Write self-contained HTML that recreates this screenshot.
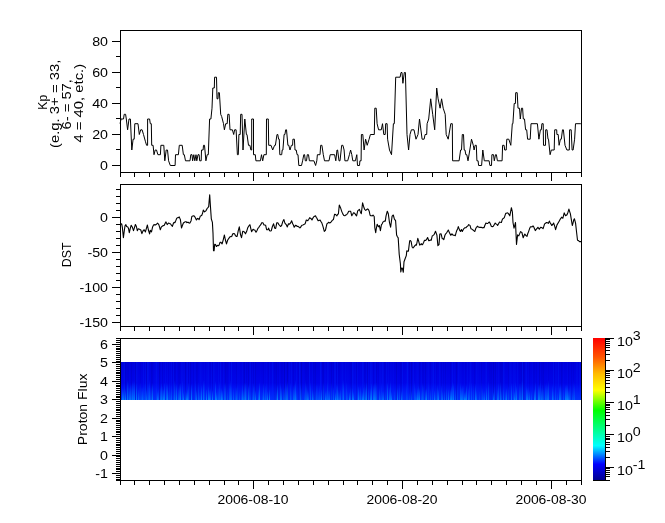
<!DOCTYPE html><html><head><meta charset="utf-8"><style>html,body{margin:0;padding:0;background:#fff;overflow:hidden}svg{display:block}text{font-family:"Liberation Sans", sans-serif;fill:#000} svg{will-change:transform}</style></head><body>
<svg width="665" height="523" viewBox="0 0 665 523">
<rect x="0" y="0" width="665" height="523" fill="#fff"/>
<defs><linearGradient id="cw" x1="0" y1="1" x2="0" y2="0"><stop offset="0.0000" stop-color="rgb(0,0,137)"/><stop offset="0.1176" stop-color="rgb(0,0,255)"/><stop offset="0.2471" stop-color="rgb(0,255,255)"/><stop offset="0.4941" stop-color="rgb(0,255,0)"/><stop offset="0.6353" stop-color="rgb(255,255,0)"/><stop offset="0.7529" stop-color="rgb(255,185,0)"/><stop offset="0.8667" stop-color="rgb(255,84,0)"/><stop offset="1.0000" stop-color="rgb(255,0,0)"/></linearGradient><linearGradient id="sb" x1="0" y1="0" x2="0" y2="1"><stop offset="0" stop-color="#0000dc"/><stop offset="0.55" stop-color="#0004e8"/><stop offset="0.66" stop-color="#000ef2"/><stop offset="1" stop-color="#0034fc"/></linearGradient><linearGradient id="sl" x1="0" y1="0" x2="0" y2="1"><stop offset="0" stop-color="#0050ff" stop-opacity="0"/><stop offset="0.5" stop-color="#0060ff" stop-opacity="0.7"/><stop offset="1" stop-color="#0090ff" stop-opacity="1"/></linearGradient></defs><rect x="120" y="362" width="461" height="38" fill="url(#sb)"/><rect x="121" y="362" width="1" height="38" fill="#000090" fill-opacity="0.12"/><rect x="122" y="362" width="1" height="38" fill="#0030ff" fill-opacity="0.05"/><rect x="122" y="388" width="1" height="12" fill="url(#sl)" fill-opacity="0.80"/><rect x="123" y="362" width="1" height="38" fill="#0030ff" fill-opacity="0.08"/><rect x="123" y="389" width="1" height="11" fill="url(#sl)" fill-opacity="0.76"/><rect x="124" y="362" width="1" height="38" fill="#0030ff" fill-opacity="0.20"/><rect x="124" y="384" width="1" height="16" fill="url(#sl)" fill-opacity="0.30"/><rect x="125" y="362" width="1" height="38" fill="#000090" fill-opacity="0.20"/><rect x="125" y="389" width="1" height="11" fill="url(#sl)" fill-opacity="0.89"/><rect x="126" y="362" width="1" height="38" fill="#000090" fill-opacity="0.05"/><rect x="127" y="362" width="1" height="38" fill="#000090" fill-opacity="0.08"/><rect x="127" y="380" width="1" height="20" fill="url(#sl)" fill-opacity="0.78"/><rect x="128" y="362" width="1" height="38" fill="#000090" fill-opacity="0.11"/><rect x="128" y="380" width="1" height="20" fill="url(#sl)" fill-opacity="0.33"/><rect x="129" y="387" width="1" height="13" fill="url(#sl)" fill-opacity="0.61"/><rect x="130" y="383" width="1" height="17" fill="url(#sl)" fill-opacity="0.65"/><rect x="131" y="362" width="1" height="38" fill="#000090" fill-opacity="0.15"/><rect x="131" y="384" width="1" height="16" fill="url(#sl)" fill-opacity="0.48"/><rect x="132" y="381" width="1" height="19" fill="url(#sl)" fill-opacity="0.70"/><rect x="133" y="381" width="1" height="19" fill="url(#sl)" fill-opacity="0.59"/><rect x="134" y="362" width="1" height="38" fill="#0030ff" fill-opacity="0.08"/><rect x="134" y="381" width="1" height="19" fill="url(#sl)" fill-opacity="0.79"/><rect x="135" y="362" width="1" height="38" fill="#000090" fill-opacity="0.19"/><rect x="136" y="362" width="1" height="38" fill="#0030ff" fill-opacity="0.20"/><rect x="136" y="383" width="1" height="17" fill="url(#sl)" fill-opacity="0.85"/><rect x="137" y="362" width="1" height="38" fill="#0030ff" fill-opacity="0.11"/><rect x="138" y="362" width="1" height="38" fill="#0030ff" fill-opacity="0.04"/><rect x="138" y="389" width="1" height="11" fill="url(#sl)" fill-opacity="0.64"/><rect x="139" y="385" width="1" height="15" fill="url(#sl)" fill-opacity="0.21"/><rect x="140" y="362" width="1" height="38" fill="#000090" fill-opacity="0.08"/><rect x="140" y="381" width="1" height="19" fill="url(#sl)" fill-opacity="0.29"/><rect x="141" y="387" width="1" height="13" fill="url(#sl)" fill-opacity="0.32"/><rect x="142" y="387" width="1" height="13" fill="url(#sl)" fill-opacity="0.56"/><rect x="143" y="362" width="1" height="38" fill="#0030ff" fill-opacity="0.20"/><rect x="143" y="386" width="1" height="14" fill="url(#sl)" fill-opacity="0.28"/><rect x="144" y="383" width="1" height="17" fill="url(#sl)" fill-opacity="0.20"/><rect x="145" y="362" width="1" height="38" fill="#0030ff" fill-opacity="0.21"/><rect x="145" y="380" width="1" height="20" fill="url(#sl)" fill-opacity="0.35"/><rect x="146" y="362" width="1" height="38" fill="#000090" fill-opacity="0.20"/><rect x="146" y="389" width="1" height="11" fill="url(#sl)" fill-opacity="0.65"/><rect x="147" y="362" width="1" height="38" fill="#0030ff" fill-opacity="0.29"/><rect x="147" y="384" width="1" height="16" fill="url(#sl)" fill-opacity="0.21"/><rect x="148" y="362" width="1" height="38" fill="#0030ff" fill-opacity="0.21"/><rect x="148" y="384" width="1" height="16" fill="url(#sl)" fill-opacity="0.47"/><rect x="149" y="362" width="1" height="38" fill="#0030ff" fill-opacity="0.07"/><rect x="149" y="380" width="1" height="20" fill="url(#sl)" fill-opacity="0.62"/><rect x="150" y="362" width="1" height="38" fill="#0030ff" fill-opacity="0.04"/><rect x="150" y="387" width="1" height="13" fill="url(#sl)" fill-opacity="0.29"/><rect x="151" y="362" width="1" height="38" fill="#000090" fill-opacity="0.16"/><rect x="151" y="386" width="1" height="14" fill="url(#sl)" fill-opacity="0.33"/><rect x="152" y="362" width="1" height="38" fill="#000090" fill-opacity="0.10"/><rect x="152" y="383" width="1" height="17" fill="url(#sl)" fill-opacity="0.77"/><rect x="154" y="362" width="1" height="38" fill="#0030ff" fill-opacity="0.08"/><rect x="155" y="362" width="1" height="38" fill="#0030ff" fill-opacity="0.10"/><rect x="156" y="362" width="1" height="38" fill="#0030ff" fill-opacity="0.28"/><rect x="156" y="386" width="1" height="14" fill="url(#sl)" fill-opacity="0.23"/><rect x="157" y="362" width="1" height="38" fill="#0030ff" fill-opacity="0.11"/><rect x="157" y="391" width="1" height="9" fill="url(#sl)" fill-opacity="0.69"/><rect x="158" y="362" width="1" height="38" fill="#0030ff" fill-opacity="0.09"/><rect x="158" y="389" width="1" height="11" fill="url(#sl)" fill-opacity="0.54"/><rect x="159" y="362" width="1" height="38" fill="#000090" fill-opacity="0.23"/><rect x="160" y="387" width="1" height="13" fill="url(#sl)" fill-opacity="0.59"/><rect x="161" y="362" width="1" height="38" fill="#0030ff" fill-opacity="0.10"/><rect x="161" y="383" width="1" height="17" fill="url(#sl)" fill-opacity="0.72"/><rect x="162" y="362" width="1" height="38" fill="#000090" fill-opacity="0.11"/><rect x="162" y="386" width="1" height="14" fill="url(#sl)" fill-opacity="0.51"/><rect x="163" y="362" width="1" height="38" fill="#0030ff" fill-opacity="0.07"/><rect x="163" y="389" width="1" height="11" fill="url(#sl)" fill-opacity="0.88"/><rect x="164" y="382" width="1" height="18" fill="url(#sl)" fill-opacity="0.82"/><rect x="165" y="362" width="1" height="38" fill="#0030ff" fill-opacity="0.17"/><rect x="166" y="382" width="1" height="18" fill="url(#sl)" fill-opacity="0.61"/><rect x="167" y="362" width="1" height="38" fill="#0030ff" fill-opacity="0.12"/><rect x="167" y="384" width="1" height="16" fill="url(#sl)" fill-opacity="0.87"/><rect x="168" y="362" width="1" height="38" fill="#000090" fill-opacity="0.05"/><rect x="168" y="390" width="1" height="10" fill="url(#sl)" fill-opacity="0.25"/><rect x="169" y="362" width="1" height="38" fill="#0030ff" fill-opacity="0.09"/><rect x="169" y="381" width="1" height="19" fill="url(#sl)" fill-opacity="0.25"/><rect x="170" y="362" width="1" height="38" fill="#0030ff" fill-opacity="0.04"/><rect x="170" y="391" width="1" height="9" fill="url(#sl)" fill-opacity="0.23"/><rect x="171" y="362" width="1" height="38" fill="#0030ff" fill-opacity="0.18"/><rect x="171" y="385" width="1" height="15" fill="url(#sl)" fill-opacity="0.45"/><rect x="172" y="362" width="1" height="38" fill="#000090" fill-opacity="0.06"/><rect x="173" y="362" width="1" height="38" fill="#0030ff" fill-opacity="0.20"/><rect x="173" y="392" width="1" height="8" fill="url(#sl)" fill-opacity="0.22"/><rect x="174" y="362" width="1" height="38" fill="#000090" fill-opacity="0.12"/><rect x="174" y="380" width="1" height="20" fill="url(#sl)" fill-opacity="0.64"/><rect x="175" y="362" width="1" height="38" fill="#000090" fill-opacity="0.10"/><rect x="175" y="381" width="1" height="19" fill="url(#sl)" fill-opacity="0.26"/><rect x="176" y="362" width="1" height="38" fill="#0030ff" fill-opacity="0.11"/><rect x="176" y="384" width="1" height="16" fill="url(#sl)" fill-opacity="0.82"/><rect x="178" y="362" width="1" height="38" fill="#000090" fill-opacity="0.10"/><rect x="178" y="387" width="1" height="13" fill="url(#sl)" fill-opacity="0.52"/><rect x="179" y="362" width="1" height="38" fill="#000090" fill-opacity="0.12"/><rect x="179" y="384" width="1" height="16" fill="url(#sl)" fill-opacity="0.62"/><rect x="180" y="383" width="1" height="17" fill="url(#sl)" fill-opacity="0.87"/><rect x="181" y="362" width="1" height="38" fill="#0030ff" fill-opacity="0.16"/><rect x="182" y="362" width="1" height="38" fill="#0030ff" fill-opacity="0.14"/><rect x="182" y="380" width="1" height="20" fill="url(#sl)" fill-opacity="0.46"/><rect x="183" y="362" width="1" height="38" fill="#0030ff" fill-opacity="0.10"/><rect x="183" y="392" width="1" height="8" fill="url(#sl)" fill-opacity="0.83"/><rect x="184" y="362" width="1" height="38" fill="#0030ff" fill-opacity="0.13"/><rect x="185" y="362" width="1" height="38" fill="#000090" fill-opacity="0.20"/><rect x="185" y="390" width="1" height="10" fill="url(#sl)" fill-opacity="0.38"/><rect x="186" y="362" width="1" height="38" fill="#0030ff" fill-opacity="0.09"/><rect x="186" y="392" width="1" height="8" fill="url(#sl)" fill-opacity="0.76"/><rect x="187" y="362" width="1" height="38" fill="#0030ff" fill-opacity="0.21"/><rect x="187" y="389" width="1" height="11" fill="url(#sl)" fill-opacity="0.84"/><rect x="188" y="362" width="1" height="38" fill="#000090" fill-opacity="0.11"/><rect x="188" y="382" width="1" height="18" fill="url(#sl)" fill-opacity="0.55"/><rect x="189" y="362" width="1" height="38" fill="#0030ff" fill-opacity="0.12"/><rect x="190" y="362" width="1" height="38" fill="#000090" fill-opacity="0.17"/><rect x="191" y="384" width="1" height="16" fill="url(#sl)" fill-opacity="0.85"/><rect x="192" y="362" width="1" height="38" fill="#0030ff" fill-opacity="0.07"/><rect x="193" y="362" width="1" height="38" fill="#000090" fill-opacity="0.09"/><rect x="194" y="362" width="1" height="38" fill="#0030ff" fill-opacity="0.10"/><rect x="195" y="362" width="1" height="38" fill="#0030ff" fill-opacity="0.09"/><rect x="195" y="380" width="1" height="20" fill="url(#sl)" fill-opacity="0.39"/><rect x="196" y="362" width="1" height="38" fill="#000090" fill-opacity="0.12"/><rect x="196" y="390" width="1" height="10" fill="url(#sl)" fill-opacity="0.70"/><rect x="197" y="362" width="1" height="38" fill="#000090" fill-opacity="0.08"/><rect x="198" y="382" width="1" height="18" fill="url(#sl)" fill-opacity="0.48"/><rect x="199" y="362" width="1" height="38" fill="#0030ff" fill-opacity="0.08"/><rect x="199" y="392" width="1" height="8" fill="url(#sl)" fill-opacity="0.30"/><rect x="200" y="362" width="1" height="38" fill="#0030ff" fill-opacity="0.19"/><rect x="200" y="390" width="1" height="10" fill="url(#sl)" fill-opacity="0.28"/><rect x="201" y="362" width="1" height="38" fill="#0030ff" fill-opacity="0.12"/><rect x="201" y="385" width="1" height="15" fill="url(#sl)" fill-opacity="0.87"/><rect x="202" y="362" width="1" height="38" fill="#0030ff" fill-opacity="0.09"/><rect x="203" y="362" width="1" height="38" fill="#0030ff" fill-opacity="0.04"/><rect x="203" y="380" width="1" height="20" fill="url(#sl)" fill-opacity="0.73"/><rect x="204" y="362" width="1" height="38" fill="#0030ff" fill-opacity="0.13"/><rect x="204" y="380" width="1" height="20" fill="url(#sl)" fill-opacity="0.33"/><rect x="206" y="362" width="1" height="38" fill="#0030ff" fill-opacity="0.11"/><rect x="206" y="389" width="1" height="11" fill="url(#sl)" fill-opacity="0.90"/><rect x="207" y="362" width="1" height="38" fill="#0030ff" fill-opacity="0.13"/><rect x="208" y="362" width="1" height="38" fill="#0030ff" fill-opacity="0.20"/><rect x="208" y="386" width="1" height="14" fill="url(#sl)" fill-opacity="0.85"/><rect x="209" y="390" width="1" height="10" fill="url(#sl)" fill-opacity="0.82"/><rect x="210" y="362" width="1" height="38" fill="#000090" fill-opacity="0.05"/><rect x="210" y="388" width="1" height="12" fill="url(#sl)" fill-opacity="0.60"/><rect x="211" y="362" width="1" height="38" fill="#0030ff" fill-opacity="0.16"/><rect x="212" y="362" width="1" height="38" fill="#000090" fill-opacity="0.12"/><rect x="212" y="390" width="1" height="10" fill="url(#sl)" fill-opacity="0.89"/><rect x="213" y="362" width="1" height="38" fill="#0030ff" fill-opacity="0.20"/><rect x="214" y="362" width="1" height="38" fill="#0030ff" fill-opacity="0.14"/><rect x="215" y="362" width="1" height="38" fill="#0030ff" fill-opacity="0.06"/><rect x="215" y="381" width="1" height="19" fill="url(#sl)" fill-opacity="0.88"/><rect x="216" y="362" width="1" height="38" fill="#0030ff" fill-opacity="0.06"/><rect x="216" y="392" width="1" height="8" fill="url(#sl)" fill-opacity="0.85"/><rect x="217" y="388" width="1" height="12" fill="url(#sl)" fill-opacity="0.26"/><rect x="218" y="362" width="1" height="38" fill="#0030ff" fill-opacity="0.19"/><rect x="218" y="388" width="1" height="12" fill="url(#sl)" fill-opacity="0.49"/><rect x="219" y="381" width="1" height="19" fill="url(#sl)" fill-opacity="0.50"/><rect x="220" y="362" width="1" height="38" fill="#0030ff" fill-opacity="0.27"/><rect x="220" y="388" width="1" height="12" fill="url(#sl)" fill-opacity="0.43"/><rect x="221" y="388" width="1" height="12" fill="url(#sl)" fill-opacity="0.83"/><rect x="222" y="362" width="1" height="38" fill="#000090" fill-opacity="0.05"/><rect x="222" y="390" width="1" height="10" fill="url(#sl)" fill-opacity="0.68"/><rect x="223" y="362" width="1" height="38" fill="#0030ff" fill-opacity="0.13"/><rect x="224" y="383" width="1" height="17" fill="url(#sl)" fill-opacity="0.51"/><rect x="225" y="362" width="1" height="38" fill="#000090" fill-opacity="0.18"/><rect x="225" y="382" width="1" height="18" fill="url(#sl)" fill-opacity="0.57"/><rect x="226" y="362" width="1" height="38" fill="#000090" fill-opacity="0.07"/><rect x="227" y="362" width="1" height="38" fill="#000090" fill-opacity="0.08"/><rect x="227" y="389" width="1" height="11" fill="url(#sl)" fill-opacity="0.35"/><rect x="229" y="362" width="1" height="38" fill="#0030ff" fill-opacity="0.14"/><rect x="229" y="383" width="1" height="17" fill="url(#sl)" fill-opacity="0.49"/><rect x="230" y="380" width="1" height="20" fill="url(#sl)" fill-opacity="0.62"/><rect x="231" y="362" width="1" height="38" fill="#0030ff" fill-opacity="0.31"/><rect x="231" y="386" width="1" height="14" fill="url(#sl)" fill-opacity="0.58"/><rect x="232" y="362" width="1" height="38" fill="#0030ff" fill-opacity="0.05"/><rect x="233" y="362" width="1" height="38" fill="#0030ff" fill-opacity="0.04"/><rect x="233" y="388" width="1" height="12" fill="url(#sl)" fill-opacity="0.52"/><rect x="234" y="362" width="1" height="38" fill="#0030ff" fill-opacity="0.04"/><rect x="235" y="362" width="1" height="38" fill="#0030ff" fill-opacity="0.04"/><rect x="235" y="387" width="1" height="13" fill="url(#sl)" fill-opacity="0.29"/><rect x="236" y="362" width="1" height="38" fill="#000090" fill-opacity="0.10"/><rect x="236" y="387" width="1" height="13" fill="url(#sl)" fill-opacity="0.57"/><rect x="237" y="362" width="1" height="38" fill="#0030ff" fill-opacity="0.10"/><rect x="237" y="384" width="1" height="16" fill="url(#sl)" fill-opacity="0.29"/><rect x="238" y="362" width="1" height="38" fill="#0030ff" fill-opacity="0.08"/><rect x="239" y="362" width="1" height="38" fill="#0030ff" fill-opacity="0.08"/><rect x="239" y="390" width="1" height="10" fill="url(#sl)" fill-opacity="0.40"/><rect x="241" y="389" width="1" height="11" fill="url(#sl)" fill-opacity="0.29"/><rect x="242" y="362" width="1" height="38" fill="#0030ff" fill-opacity="0.14"/><rect x="242" y="384" width="1" height="16" fill="url(#sl)" fill-opacity="0.70"/><rect x="243" y="362" width="1" height="38" fill="#000090" fill-opacity="0.06"/><rect x="243" y="390" width="1" height="10" fill="url(#sl)" fill-opacity="0.49"/><rect x="244" y="362" width="1" height="38" fill="#000090" fill-opacity="0.20"/><rect x="244" y="382" width="1" height="18" fill="url(#sl)" fill-opacity="0.58"/><rect x="245" y="362" width="1" height="38" fill="#0030ff" fill-opacity="0.10"/><rect x="245" y="383" width="1" height="17" fill="url(#sl)" fill-opacity="0.80"/><rect x="246" y="362" width="1" height="38" fill="#000090" fill-opacity="0.09"/><rect x="246" y="382" width="1" height="18" fill="url(#sl)" fill-opacity="0.36"/><rect x="248" y="362" width="1" height="38" fill="#000090" fill-opacity="0.18"/><rect x="248" y="385" width="1" height="15" fill="url(#sl)" fill-opacity="0.82"/><rect x="249" y="362" width="1" height="38" fill="#0030ff" fill-opacity="0.07"/><rect x="249" y="381" width="1" height="19" fill="url(#sl)" fill-opacity="0.29"/><rect x="250" y="362" width="1" height="38" fill="#0030ff" fill-opacity="0.20"/><rect x="250" y="391" width="1" height="9" fill="url(#sl)" fill-opacity="0.26"/><rect x="251" y="362" width="1" height="38" fill="#000090" fill-opacity="0.08"/><rect x="252" y="362" width="1" height="38" fill="#0030ff" fill-opacity="0.08"/><rect x="252" y="391" width="1" height="9" fill="url(#sl)" fill-opacity="0.29"/><rect x="253" y="362" width="1" height="38" fill="#000090" fill-opacity="0.12"/><rect x="253" y="383" width="1" height="17" fill="url(#sl)" fill-opacity="0.60"/><rect x="254" y="362" width="1" height="38" fill="#0030ff" fill-opacity="0.10"/><rect x="254" y="385" width="1" height="15" fill="url(#sl)" fill-opacity="0.28"/><rect x="255" y="362" width="1" height="38" fill="#000090" fill-opacity="0.17"/><rect x="255" y="390" width="1" height="10" fill="url(#sl)" fill-opacity="0.78"/><rect x="258" y="389" width="1" height="11" fill="url(#sl)" fill-opacity="0.54"/><rect x="259" y="382" width="1" height="18" fill="url(#sl)" fill-opacity="0.89"/><rect x="260" y="362" width="1" height="38" fill="#0030ff" fill-opacity="0.06"/><rect x="262" y="392" width="1" height="8" fill="url(#sl)" fill-opacity="0.27"/><rect x="263" y="362" width="1" height="38" fill="#000090" fill-opacity="0.08"/><rect x="263" y="383" width="1" height="17" fill="url(#sl)" fill-opacity="0.62"/><rect x="264" y="362" width="1" height="38" fill="#0030ff" fill-opacity="0.08"/><rect x="264" y="391" width="1" height="9" fill="url(#sl)" fill-opacity="0.23"/><rect x="265" y="362" width="1" height="38" fill="#0030ff" fill-opacity="0.04"/><rect x="265" y="385" width="1" height="15" fill="url(#sl)" fill-opacity="0.48"/><rect x="266" y="362" width="1" height="38" fill="#0030ff" fill-opacity="0.12"/><rect x="266" y="382" width="1" height="18" fill="url(#sl)" fill-opacity="0.27"/><rect x="267" y="391" width="1" height="9" fill="url(#sl)" fill-opacity="0.81"/><rect x="268" y="362" width="1" height="38" fill="#000090" fill-opacity="0.09"/><rect x="269" y="362" width="1" height="38" fill="#0030ff" fill-opacity="0.14"/><rect x="269" y="389" width="1" height="11" fill="url(#sl)" fill-opacity="0.89"/><rect x="272" y="362" width="1" height="38" fill="#0030ff" fill-opacity="0.26"/><rect x="273" y="362" width="1" height="38" fill="#0030ff" fill-opacity="0.05"/><rect x="274" y="362" width="1" height="38" fill="#000090" fill-opacity="0.09"/><rect x="275" y="362" width="1" height="38" fill="#000090" fill-opacity="0.06"/><rect x="276" y="362" width="1" height="38" fill="#000090" fill-opacity="0.16"/><rect x="276" y="391" width="1" height="9" fill="url(#sl)" fill-opacity="0.33"/><rect x="277" y="385" width="1" height="15" fill="url(#sl)" fill-opacity="0.89"/><rect x="278" y="362" width="1" height="38" fill="#000090" fill-opacity="0.08"/><rect x="279" y="362" width="1" height="38" fill="#0030ff" fill-opacity="0.09"/><rect x="280" y="383" width="1" height="17" fill="url(#sl)" fill-opacity="0.66"/><rect x="281" y="362" width="1" height="38" fill="#000090" fill-opacity="0.11"/><rect x="281" y="387" width="1" height="13" fill="url(#sl)" fill-opacity="0.65"/><rect x="282" y="362" width="1" height="38" fill="#000090" fill-opacity="0.05"/><rect x="283" y="389" width="1" height="11" fill="url(#sl)" fill-opacity="0.28"/><rect x="284" y="362" width="1" height="38" fill="#000090" fill-opacity="0.28"/><rect x="284" y="387" width="1" height="13" fill="url(#sl)" fill-opacity="0.48"/><rect x="285" y="362" width="1" height="38" fill="#0030ff" fill-opacity="0.08"/><rect x="285" y="381" width="1" height="19" fill="url(#sl)" fill-opacity="0.38"/><rect x="286" y="385" width="1" height="15" fill="url(#sl)" fill-opacity="0.59"/><rect x="287" y="362" width="1" height="38" fill="#000090" fill-opacity="0.26"/><rect x="287" y="381" width="1" height="19" fill="url(#sl)" fill-opacity="0.65"/><rect x="289" y="362" width="1" height="38" fill="#0030ff" fill-opacity="0.14"/><rect x="290" y="362" width="1" height="38" fill="#0030ff" fill-opacity="0.07"/><rect x="290" y="382" width="1" height="18" fill="url(#sl)" fill-opacity="0.47"/><rect x="291" y="362" width="1" height="38" fill="#0030ff" fill-opacity="0.23"/><rect x="291" y="389" width="1" height="11" fill="url(#sl)" fill-opacity="0.24"/><rect x="293" y="362" width="1" height="38" fill="#000090" fill-opacity="0.11"/><rect x="293" y="385" width="1" height="15" fill="url(#sl)" fill-opacity="0.57"/><rect x="294" y="362" width="1" height="38" fill="#0030ff" fill-opacity="0.07"/><rect x="294" y="384" width="1" height="16" fill="url(#sl)" fill-opacity="0.59"/><rect x="295" y="380" width="1" height="20" fill="url(#sl)" fill-opacity="0.74"/><rect x="296" y="362" width="1" height="38" fill="#0030ff" fill-opacity="0.19"/><rect x="296" y="390" width="1" height="10" fill="url(#sl)" fill-opacity="0.31"/><rect x="298" y="362" width="1" height="38" fill="#000090" fill-opacity="0.10"/><rect x="299" y="362" width="1" height="38" fill="#0030ff" fill-opacity="0.34"/><rect x="300" y="362" width="1" height="38" fill="#0030ff" fill-opacity="0.11"/><rect x="300" y="383" width="1" height="17" fill="url(#sl)" fill-opacity="0.50"/><rect x="301" y="362" width="1" height="38" fill="#000090" fill-opacity="0.27"/><rect x="301" y="388" width="1" height="12" fill="url(#sl)" fill-opacity="0.27"/><rect x="302" y="362" width="1" height="38" fill="#0030ff" fill-opacity="0.05"/><rect x="303" y="362" width="1" height="38" fill="#0030ff" fill-opacity="0.06"/><rect x="304" y="391" width="1" height="9" fill="url(#sl)" fill-opacity="0.28"/><rect x="305" y="362" width="1" height="38" fill="#000090" fill-opacity="0.08"/><rect x="305" y="380" width="1" height="20" fill="url(#sl)" fill-opacity="0.45"/><rect x="306" y="362" width="1" height="38" fill="#000090" fill-opacity="0.08"/><rect x="306" y="385" width="1" height="15" fill="url(#sl)" fill-opacity="0.51"/><rect x="307" y="362" width="1" height="38" fill="#000090" fill-opacity="0.05"/><rect x="307" y="389" width="1" height="11" fill="url(#sl)" fill-opacity="0.68"/><rect x="308" y="362" width="1" height="38" fill="#000090" fill-opacity="0.10"/><rect x="308" y="391" width="1" height="9" fill="url(#sl)" fill-opacity="0.57"/><rect x="309" y="362" width="1" height="38" fill="#0030ff" fill-opacity="0.30"/><rect x="310" y="381" width="1" height="19" fill="url(#sl)" fill-opacity="0.55"/><rect x="312" y="362" width="1" height="38" fill="#0030ff" fill-opacity="0.13"/><rect x="312" y="389" width="1" height="11" fill="url(#sl)" fill-opacity="0.68"/><rect x="313" y="362" width="1" height="38" fill="#000090" fill-opacity="0.12"/><rect x="313" y="392" width="1" height="8" fill="url(#sl)" fill-opacity="0.37"/><rect x="314" y="362" width="1" height="38" fill="#000090" fill-opacity="0.05"/><rect x="315" y="362" width="1" height="38" fill="#000090" fill-opacity="0.15"/><rect x="315" y="390" width="1" height="10" fill="url(#sl)" fill-opacity="0.23"/><rect x="316" y="384" width="1" height="16" fill="url(#sl)" fill-opacity="0.38"/><rect x="317" y="384" width="1" height="16" fill="url(#sl)" fill-opacity="0.25"/><rect x="318" y="390" width="1" height="10" fill="url(#sl)" fill-opacity="0.31"/><rect x="319" y="385" width="1" height="15" fill="url(#sl)" fill-opacity="0.35"/><rect x="320" y="362" width="1" height="38" fill="#0030ff" fill-opacity="0.34"/><rect x="320" y="391" width="1" height="9" fill="url(#sl)" fill-opacity="0.29"/><rect x="321" y="362" width="1" height="38" fill="#0030ff" fill-opacity="0.15"/><rect x="321" y="389" width="1" height="11" fill="url(#sl)" fill-opacity="0.79"/><rect x="322" y="362" width="1" height="38" fill="#000090" fill-opacity="0.13"/><rect x="323" y="362" width="1" height="38" fill="#000090" fill-opacity="0.16"/><rect x="323" y="382" width="1" height="18" fill="url(#sl)" fill-opacity="0.46"/><rect x="324" y="362" width="1" height="38" fill="#0030ff" fill-opacity="0.07"/><rect x="325" y="362" width="1" height="38" fill="#0030ff" fill-opacity="0.11"/><rect x="325" y="391" width="1" height="9" fill="url(#sl)" fill-opacity="0.78"/><rect x="326" y="390" width="1" height="10" fill="url(#sl)" fill-opacity="0.46"/><rect x="327" y="362" width="1" height="38" fill="#0030ff" fill-opacity="0.20"/><rect x="327" y="381" width="1" height="19" fill="url(#sl)" fill-opacity="0.50"/><rect x="328" y="362" width="1" height="38" fill="#0030ff" fill-opacity="0.14"/><rect x="328" y="390" width="1" height="10" fill="url(#sl)" fill-opacity="0.52"/><rect x="329" y="390" width="1" height="10" fill="url(#sl)" fill-opacity="0.62"/><rect x="331" y="362" width="1" height="38" fill="#000090" fill-opacity="0.17"/><rect x="331" y="382" width="1" height="18" fill="url(#sl)" fill-opacity="0.35"/><rect x="333" y="362" width="1" height="38" fill="#000090" fill-opacity="0.10"/><rect x="333" y="387" width="1" height="13" fill="url(#sl)" fill-opacity="0.60"/><rect x="334" y="362" width="1" height="38" fill="#0030ff" fill-opacity="0.23"/><rect x="335" y="362" width="1" height="38" fill="#0030ff" fill-opacity="0.25"/><rect x="335" y="392" width="1" height="8" fill="url(#sl)" fill-opacity="0.89"/><rect x="336" y="362" width="1" height="38" fill="#000090" fill-opacity="0.08"/><rect x="336" y="383" width="1" height="17" fill="url(#sl)" fill-opacity="0.48"/><rect x="337" y="362" width="1" height="38" fill="#0030ff" fill-opacity="0.23"/><rect x="337" y="385" width="1" height="15" fill="url(#sl)" fill-opacity="0.78"/><rect x="338" y="362" width="1" height="38" fill="#000090" fill-opacity="0.08"/><rect x="338" y="390" width="1" height="10" fill="url(#sl)" fill-opacity="0.48"/><rect x="339" y="362" width="1" height="38" fill="#000090" fill-opacity="0.05"/><rect x="339" y="392" width="1" height="8" fill="url(#sl)" fill-opacity="0.47"/><rect x="340" y="362" width="1" height="38" fill="#0030ff" fill-opacity="0.05"/><rect x="340" y="389" width="1" height="11" fill="url(#sl)" fill-opacity="0.59"/><rect x="341" y="362" width="1" height="38" fill="#0030ff" fill-opacity="0.09"/><rect x="342" y="362" width="1" height="38" fill="#0030ff" fill-opacity="0.18"/><rect x="342" y="380" width="1" height="20" fill="url(#sl)" fill-opacity="0.35"/><rect x="343" y="362" width="1" height="38" fill="#0030ff" fill-opacity="0.07"/><rect x="343" y="380" width="1" height="20" fill="url(#sl)" fill-opacity="0.66"/><rect x="345" y="362" width="1" height="38" fill="#0030ff" fill-opacity="0.14"/><rect x="346" y="362" width="1" height="38" fill="#0030ff" fill-opacity="0.06"/><rect x="346" y="381" width="1" height="19" fill="url(#sl)" fill-opacity="0.39"/><rect x="347" y="362" width="1" height="38" fill="#0030ff" fill-opacity="0.08"/><rect x="347" y="390" width="1" height="10" fill="url(#sl)" fill-opacity="0.30"/><rect x="348" y="362" width="1" height="38" fill="#0030ff" fill-opacity="0.06"/><rect x="349" y="392" width="1" height="8" fill="url(#sl)" fill-opacity="0.84"/><rect x="350" y="362" width="1" height="38" fill="#000090" fill-opacity="0.06"/><rect x="350" y="387" width="1" height="13" fill="url(#sl)" fill-opacity="0.48"/><rect x="351" y="362" width="1" height="38" fill="#000090" fill-opacity="0.14"/><rect x="352" y="362" width="1" height="38" fill="#0030ff" fill-opacity="0.27"/><rect x="352" y="388" width="1" height="12" fill="url(#sl)" fill-opacity="0.76"/><rect x="353" y="362" width="1" height="38" fill="#0030ff" fill-opacity="0.15"/><rect x="353" y="392" width="1" height="8" fill="url(#sl)" fill-opacity="0.78"/><rect x="354" y="362" width="1" height="38" fill="#0030ff" fill-opacity="0.07"/><rect x="355" y="362" width="1" height="38" fill="#0030ff" fill-opacity="0.13"/><rect x="356" y="362" width="1" height="38" fill="#000090" fill-opacity="0.14"/><rect x="357" y="362" width="1" height="38" fill="#0030ff" fill-opacity="0.17"/><rect x="357" y="391" width="1" height="9" fill="url(#sl)" fill-opacity="0.21"/><rect x="358" y="386" width="1" height="14" fill="url(#sl)" fill-opacity="0.84"/><rect x="359" y="390" width="1" height="10" fill="url(#sl)" fill-opacity="0.32"/><rect x="360" y="362" width="1" height="38" fill="#0030ff" fill-opacity="0.07"/><rect x="360" y="386" width="1" height="14" fill="url(#sl)" fill-opacity="0.57"/><rect x="361" y="391" width="1" height="9" fill="url(#sl)" fill-opacity="0.28"/><rect x="362" y="362" width="1" height="38" fill="#0030ff" fill-opacity="0.25"/><rect x="362" y="392" width="1" height="8" fill="url(#sl)" fill-opacity="0.84"/><rect x="363" y="362" width="1" height="38" fill="#0030ff" fill-opacity="0.17"/><rect x="363" y="387" width="1" height="13" fill="url(#sl)" fill-opacity="0.84"/><rect x="364" y="362" width="1" height="38" fill="#000090" fill-opacity="0.09"/><rect x="364" y="381" width="1" height="19" fill="url(#sl)" fill-opacity="0.34"/><rect x="365" y="362" width="1" height="38" fill="#000090" fill-opacity="0.08"/><rect x="365" y="387" width="1" height="13" fill="url(#sl)" fill-opacity="0.62"/><rect x="366" y="362" width="1" height="38" fill="#0030ff" fill-opacity="0.12"/><rect x="366" y="382" width="1" height="18" fill="url(#sl)" fill-opacity="0.83"/><rect x="367" y="362" width="1" height="38" fill="#000090" fill-opacity="0.18"/><rect x="368" y="362" width="1" height="38" fill="#0030ff" fill-opacity="0.15"/><rect x="368" y="388" width="1" height="12" fill="url(#sl)" fill-opacity="0.54"/><rect x="370" y="362" width="1" height="38" fill="#0030ff" fill-opacity="0.25"/><rect x="370" y="388" width="1" height="12" fill="url(#sl)" fill-opacity="0.74"/><rect x="371" y="362" width="1" height="38" fill="#0030ff" fill-opacity="0.20"/><rect x="371" y="383" width="1" height="17" fill="url(#sl)" fill-opacity="0.86"/><rect x="372" y="362" width="1" height="38" fill="#0030ff" fill-opacity="0.13"/><rect x="373" y="362" width="1" height="38" fill="#000090" fill-opacity="0.09"/><rect x="373" y="384" width="1" height="16" fill="url(#sl)" fill-opacity="0.75"/><rect x="374" y="362" width="1" height="38" fill="#0030ff" fill-opacity="0.10"/><rect x="374" y="383" width="1" height="17" fill="url(#sl)" fill-opacity="0.82"/><rect x="375" y="362" width="1" height="38" fill="#0030ff" fill-opacity="0.18"/><rect x="375" y="383" width="1" height="17" fill="url(#sl)" fill-opacity="0.70"/><rect x="376" y="362" width="1" height="38" fill="#000090" fill-opacity="0.15"/><rect x="376" y="382" width="1" height="18" fill="url(#sl)" fill-opacity="0.49"/><rect x="378" y="362" width="1" height="38" fill="#000090" fill-opacity="0.06"/><rect x="379" y="362" width="1" height="38" fill="#0030ff" fill-opacity="0.13"/><rect x="379" y="388" width="1" height="12" fill="url(#sl)" fill-opacity="0.57"/><rect x="380" y="362" width="1" height="38" fill="#0030ff" fill-opacity="0.14"/><rect x="380" y="392" width="1" height="8" fill="url(#sl)" fill-opacity="0.32"/><rect x="381" y="362" width="1" height="38" fill="#0030ff" fill-opacity="0.08"/><rect x="381" y="382" width="1" height="18" fill="url(#sl)" fill-opacity="0.26"/><rect x="382" y="362" width="1" height="38" fill="#0030ff" fill-opacity="0.26"/><rect x="382" y="391" width="1" height="9" fill="url(#sl)" fill-opacity="0.57"/><rect x="383" y="362" width="1" height="38" fill="#0030ff" fill-opacity="0.14"/><rect x="383" y="391" width="1" height="9" fill="url(#sl)" fill-opacity="0.61"/><rect x="384" y="362" width="1" height="38" fill="#000090" fill-opacity="0.10"/><rect x="385" y="362" width="1" height="38" fill="#000090" fill-opacity="0.06"/><rect x="385" y="390" width="1" height="10" fill="url(#sl)" fill-opacity="0.26"/><rect x="386" y="362" width="1" height="38" fill="#0030ff" fill-opacity="0.20"/><rect x="387" y="362" width="1" height="38" fill="#0030ff" fill-opacity="0.04"/><rect x="387" y="382" width="1" height="18" fill="url(#sl)" fill-opacity="0.86"/><rect x="388" y="362" width="1" height="38" fill="#0030ff" fill-opacity="0.15"/><rect x="389" y="387" width="1" height="13" fill="url(#sl)" fill-opacity="0.67"/><rect x="390" y="362" width="1" height="38" fill="#0030ff" fill-opacity="0.11"/><rect x="390" y="381" width="1" height="19" fill="url(#sl)" fill-opacity="0.68"/><rect x="391" y="362" width="1" height="38" fill="#0030ff" fill-opacity="0.09"/><rect x="391" y="392" width="1" height="8" fill="url(#sl)" fill-opacity="0.78"/><rect x="392" y="362" width="1" height="38" fill="#0030ff" fill-opacity="0.07"/><rect x="393" y="362" width="1" height="38" fill="#0030ff" fill-opacity="0.12"/><rect x="394" y="389" width="1" height="11" fill="url(#sl)" fill-opacity="0.28"/><rect x="396" y="362" width="1" height="38" fill="#000090" fill-opacity="0.20"/><rect x="397" y="362" width="1" height="38" fill="#0030ff" fill-opacity="0.06"/><rect x="397" y="388" width="1" height="12" fill="url(#sl)" fill-opacity="0.72"/><rect x="399" y="383" width="1" height="17" fill="url(#sl)" fill-opacity="0.34"/><rect x="400" y="362" width="1" height="38" fill="#000090" fill-opacity="0.13"/><rect x="401" y="362" width="1" height="38" fill="#000090" fill-opacity="0.12"/><rect x="401" y="391" width="1" height="9" fill="url(#sl)" fill-opacity="0.65"/><rect x="402" y="362" width="1" height="38" fill="#0030ff" fill-opacity="0.25"/><rect x="402" y="386" width="1" height="14" fill="url(#sl)" fill-opacity="0.26"/><rect x="404" y="362" width="1" height="38" fill="#0030ff" fill-opacity="0.04"/><rect x="405" y="362" width="1" height="38" fill="#0030ff" fill-opacity="0.05"/><rect x="406" y="362" width="1" height="38" fill="#0030ff" fill-opacity="0.11"/><rect x="406" y="381" width="1" height="19" fill="url(#sl)" fill-opacity="0.27"/><rect x="407" y="362" width="1" height="38" fill="#0030ff" fill-opacity="0.35"/><rect x="407" y="392" width="1" height="8" fill="url(#sl)" fill-opacity="0.25"/><rect x="408" y="362" width="1" height="38" fill="#0030ff" fill-opacity="0.07"/><rect x="409" y="362" width="1" height="38" fill="#000090" fill-opacity="0.11"/><rect x="409" y="392" width="1" height="8" fill="url(#sl)" fill-opacity="0.30"/><rect x="410" y="362" width="1" height="38" fill="#0030ff" fill-opacity="0.06"/><rect x="411" y="362" width="1" height="38" fill="#000090" fill-opacity="0.22"/><rect x="411" y="391" width="1" height="9" fill="url(#sl)" fill-opacity="0.48"/><rect x="413" y="362" width="1" height="38" fill="#0030ff" fill-opacity="0.21"/><rect x="414" y="380" width="1" height="20" fill="url(#sl)" fill-opacity="0.38"/><rect x="415" y="362" width="1" height="38" fill="#0030ff" fill-opacity="0.04"/><rect x="415" y="388" width="1" height="12" fill="url(#sl)" fill-opacity="0.46"/><rect x="416" y="362" width="1" height="38" fill="#0030ff" fill-opacity="0.10"/><rect x="416" y="392" width="1" height="8" fill="url(#sl)" fill-opacity="0.41"/><rect x="417" y="362" width="1" height="38" fill="#0030ff" fill-opacity="0.15"/><rect x="417" y="388" width="1" height="12" fill="url(#sl)" fill-opacity="0.83"/><rect x="418" y="362" width="1" height="38" fill="#0030ff" fill-opacity="0.11"/><rect x="418" y="385" width="1" height="15" fill="url(#sl)" fill-opacity="0.63"/><rect x="419" y="362" width="1" height="38" fill="#000090" fill-opacity="0.13"/><rect x="419" y="388" width="1" height="12" fill="url(#sl)" fill-opacity="0.90"/><rect x="421" y="362" width="1" height="38" fill="#0030ff" fill-opacity="0.14"/><rect x="421" y="390" width="1" height="10" fill="url(#sl)" fill-opacity="0.34"/><rect x="422" y="362" width="1" height="38" fill="#000090" fill-opacity="0.05"/><rect x="422" y="383" width="1" height="17" fill="url(#sl)" fill-opacity="0.53"/><rect x="423" y="362" width="1" height="38" fill="#000090" fill-opacity="0.08"/><rect x="423" y="385" width="1" height="15" fill="url(#sl)" fill-opacity="0.39"/><rect x="424" y="362" width="1" height="38" fill="#0030ff" fill-opacity="0.05"/><rect x="425" y="362" width="1" height="38" fill="#000090" fill-opacity="0.15"/><rect x="425" y="389" width="1" height="11" fill="url(#sl)" fill-opacity="0.58"/><rect x="426" y="362" width="1" height="38" fill="#0030ff" fill-opacity="0.06"/><rect x="426" y="388" width="1" height="12" fill="url(#sl)" fill-opacity="0.84"/><rect x="427" y="362" width="1" height="38" fill="#0030ff" fill-opacity="0.10"/><rect x="428" y="362" width="1" height="38" fill="#0030ff" fill-opacity="0.17"/><rect x="428" y="382" width="1" height="18" fill="url(#sl)" fill-opacity="0.29"/><rect x="429" y="362" width="1" height="38" fill="#0030ff" fill-opacity="0.04"/><rect x="430" y="362" width="1" height="38" fill="#000090" fill-opacity="0.07"/><rect x="430" y="389" width="1" height="11" fill="url(#sl)" fill-opacity="0.45"/><rect x="431" y="362" width="1" height="38" fill="#0030ff" fill-opacity="0.08"/><rect x="432" y="362" width="1" height="38" fill="#0030ff" fill-opacity="0.14"/><rect x="432" y="386" width="1" height="14" fill="url(#sl)" fill-opacity="0.33"/><rect x="433" y="362" width="1" height="38" fill="#0030ff" fill-opacity="0.28"/><rect x="434" y="390" width="1" height="10" fill="url(#sl)" fill-opacity="0.79"/><rect x="435" y="362" width="1" height="38" fill="#0030ff" fill-opacity="0.14"/><rect x="435" y="392" width="1" height="8" fill="url(#sl)" fill-opacity="0.21"/><rect x="436" y="362" width="1" height="38" fill="#000090" fill-opacity="0.08"/><rect x="436" y="387" width="1" height="13" fill="url(#sl)" fill-opacity="0.22"/><rect x="437" y="385" width="1" height="15" fill="url(#sl)" fill-opacity="0.56"/><rect x="438" y="389" width="1" height="11" fill="url(#sl)" fill-opacity="0.85"/><rect x="439" y="362" width="1" height="38" fill="#0030ff" fill-opacity="0.20"/><rect x="440" y="362" width="1" height="38" fill="#0030ff" fill-opacity="0.07"/><rect x="441" y="362" width="1" height="38" fill="#000090" fill-opacity="0.10"/><rect x="441" y="385" width="1" height="15" fill="url(#sl)" fill-opacity="0.49"/><rect x="442" y="362" width="1" height="38" fill="#0030ff" fill-opacity="0.08"/><rect x="442" y="391" width="1" height="9" fill="url(#sl)" fill-opacity="0.60"/><rect x="443" y="362" width="1" height="38" fill="#000090" fill-opacity="0.07"/><rect x="444" y="362" width="1" height="38" fill="#0030ff" fill-opacity="0.05"/><rect x="444" y="391" width="1" height="9" fill="url(#sl)" fill-opacity="0.49"/><rect x="445" y="362" width="1" height="38" fill="#000090" fill-opacity="0.12"/><rect x="446" y="362" width="1" height="38" fill="#0030ff" fill-opacity="0.06"/><rect x="446" y="388" width="1" height="12" fill="url(#sl)" fill-opacity="0.56"/><rect x="448" y="389" width="1" height="11" fill="url(#sl)" fill-opacity="0.83"/><rect x="450" y="362" width="1" height="38" fill="#000090" fill-opacity="0.13"/><rect x="450" y="389" width="1" height="11" fill="url(#sl)" fill-opacity="0.81"/><rect x="451" y="386" width="1" height="14" fill="url(#sl)" fill-opacity="0.88"/><rect x="452" y="362" width="1" height="38" fill="#0030ff" fill-opacity="0.23"/><rect x="452" y="381" width="1" height="19" fill="url(#sl)" fill-opacity="0.57"/><rect x="453" y="383" width="1" height="17" fill="url(#sl)" fill-opacity="0.82"/><rect x="454" y="362" width="1" height="38" fill="#0030ff" fill-opacity="0.10"/><rect x="455" y="388" width="1" height="12" fill="url(#sl)" fill-opacity="0.49"/><rect x="456" y="362" width="1" height="38" fill="#000090" fill-opacity="0.20"/><rect x="457" y="381" width="1" height="19" fill="url(#sl)" fill-opacity="0.27"/><rect x="458" y="362" width="1" height="38" fill="#0030ff" fill-opacity="0.20"/><rect x="459" y="362" width="1" height="38" fill="#0030ff" fill-opacity="0.11"/><rect x="460" y="362" width="1" height="38" fill="#0030ff" fill-opacity="0.10"/><rect x="460" y="383" width="1" height="17" fill="url(#sl)" fill-opacity="0.71"/><rect x="461" y="362" width="1" height="38" fill="#0030ff" fill-opacity="0.07"/><rect x="461" y="387" width="1" height="13" fill="url(#sl)" fill-opacity="0.77"/><rect x="462" y="385" width="1" height="15" fill="url(#sl)" fill-opacity="0.68"/><rect x="463" y="385" width="1" height="15" fill="url(#sl)" fill-opacity="0.42"/><rect x="464" y="362" width="1" height="38" fill="#0030ff" fill-opacity="0.10"/><rect x="464" y="392" width="1" height="8" fill="url(#sl)" fill-opacity="0.88"/><rect x="465" y="362" width="1" height="38" fill="#000090" fill-opacity="0.07"/><rect x="465" y="391" width="1" height="9" fill="url(#sl)" fill-opacity="0.83"/><rect x="466" y="385" width="1" height="15" fill="url(#sl)" fill-opacity="0.83"/><rect x="467" y="362" width="1" height="38" fill="#0030ff" fill-opacity="0.17"/><rect x="468" y="388" width="1" height="12" fill="url(#sl)" fill-opacity="0.64"/><rect x="469" y="362" width="1" height="38" fill="#0030ff" fill-opacity="0.09"/><rect x="469" y="381" width="1" height="19" fill="url(#sl)" fill-opacity="0.41"/><rect x="470" y="362" width="1" height="38" fill="#0030ff" fill-opacity="0.23"/><rect x="471" y="362" width="1" height="38" fill="#0030ff" fill-opacity="0.09"/><rect x="471" y="382" width="1" height="18" fill="url(#sl)" fill-opacity="0.43"/><rect x="473" y="384" width="1" height="16" fill="url(#sl)" fill-opacity="0.28"/><rect x="474" y="362" width="1" height="38" fill="#000090" fill-opacity="0.10"/><rect x="475" y="384" width="1" height="16" fill="url(#sl)" fill-opacity="0.75"/><rect x="476" y="362" width="1" height="38" fill="#0030ff" fill-opacity="0.19"/><rect x="476" y="390" width="1" height="10" fill="url(#sl)" fill-opacity="0.57"/><rect x="477" y="362" width="1" height="38" fill="#0030ff" fill-opacity="0.11"/><rect x="478" y="362" width="1" height="38" fill="#0030ff" fill-opacity="0.10"/><rect x="479" y="362" width="1" height="38" fill="#0030ff" fill-opacity="0.04"/><rect x="479" y="390" width="1" height="10" fill="url(#sl)" fill-opacity="0.26"/><rect x="480" y="362" width="1" height="38" fill="#0030ff" fill-opacity="0.08"/><rect x="481" y="362" width="1" height="38" fill="#000090" fill-opacity="0.11"/><rect x="481" y="380" width="1" height="20" fill="url(#sl)" fill-opacity="0.20"/><rect x="482" y="362" width="1" height="38" fill="#0030ff" fill-opacity="0.05"/><rect x="482" y="388" width="1" height="12" fill="url(#sl)" fill-opacity="0.38"/><rect x="483" y="392" width="1" height="8" fill="url(#sl)" fill-opacity="0.33"/><rect x="484" y="391" width="1" height="9" fill="url(#sl)" fill-opacity="0.58"/><rect x="485" y="362" width="1" height="38" fill="#0030ff" fill-opacity="0.10"/><rect x="486" y="362" width="1" height="38" fill="#0030ff" fill-opacity="0.24"/><rect x="486" y="387" width="1" height="13" fill="url(#sl)" fill-opacity="0.84"/><rect x="488" y="381" width="1" height="19" fill="url(#sl)" fill-opacity="0.59"/><rect x="489" y="362" width="1" height="38" fill="#000090" fill-opacity="0.06"/><rect x="490" y="362" width="1" height="38" fill="#000090" fill-opacity="0.07"/><rect x="491" y="362" width="1" height="38" fill="#000090" fill-opacity="0.12"/><rect x="493" y="362" width="1" height="38" fill="#000090" fill-opacity="0.24"/><rect x="493" y="392" width="1" height="8" fill="url(#sl)" fill-opacity="0.74"/><rect x="494" y="386" width="1" height="14" fill="url(#sl)" fill-opacity="0.36"/><rect x="495" y="362" width="1" height="38" fill="#000090" fill-opacity="0.16"/><rect x="496" y="362" width="1" height="38" fill="#0030ff" fill-opacity="0.08"/><rect x="497" y="389" width="1" height="11" fill="url(#sl)" fill-opacity="0.62"/><rect x="498" y="362" width="1" height="38" fill="#0030ff" fill-opacity="0.14"/><rect x="498" y="383" width="1" height="17" fill="url(#sl)" fill-opacity="0.62"/><rect x="500" y="362" width="1" height="38" fill="#000090" fill-opacity="0.13"/><rect x="500" y="382" width="1" height="18" fill="url(#sl)" fill-opacity="0.63"/><rect x="501" y="362" width="1" height="38" fill="#000090" fill-opacity="0.14"/><rect x="501" y="391" width="1" height="9" fill="url(#sl)" fill-opacity="0.38"/><rect x="502" y="362" width="1" height="38" fill="#000090" fill-opacity="0.11"/><rect x="503" y="362" width="1" height="38" fill="#0030ff" fill-opacity="0.24"/><rect x="503" y="388" width="1" height="12" fill="url(#sl)" fill-opacity="0.61"/><rect x="504" y="362" width="1" height="38" fill="#0030ff" fill-opacity="0.12"/><rect x="505" y="391" width="1" height="9" fill="url(#sl)" fill-opacity="0.42"/><rect x="506" y="388" width="1" height="12" fill="url(#sl)" fill-opacity="0.75"/><rect x="508" y="362" width="1" height="38" fill="#000090" fill-opacity="0.12"/><rect x="508" y="386" width="1" height="14" fill="url(#sl)" fill-opacity="0.38"/><rect x="509" y="362" width="1" height="38" fill="#0030ff" fill-opacity="0.10"/><rect x="510" y="362" width="1" height="38" fill="#0030ff" fill-opacity="0.16"/><rect x="511" y="362" width="1" height="38" fill="#0030ff" fill-opacity="0.11"/><rect x="511" y="383" width="1" height="17" fill="url(#sl)" fill-opacity="0.69"/><rect x="512" y="362" width="1" height="38" fill="#0030ff" fill-opacity="0.05"/><rect x="513" y="362" width="1" height="38" fill="#0030ff" fill-opacity="0.14"/><rect x="513" y="382" width="1" height="18" fill="url(#sl)" fill-opacity="0.30"/><rect x="514" y="362" width="1" height="38" fill="#0030ff" fill-opacity="0.15"/><rect x="514" y="391" width="1" height="9" fill="url(#sl)" fill-opacity="0.89"/><rect x="515" y="362" width="1" height="38" fill="#0030ff" fill-opacity="0.12"/><rect x="515" y="381" width="1" height="19" fill="url(#sl)" fill-opacity="0.48"/><rect x="516" y="386" width="1" height="14" fill="url(#sl)" fill-opacity="0.85"/><rect x="517" y="362" width="1" height="38" fill="#0030ff" fill-opacity="0.18"/><rect x="519" y="362" width="1" height="38" fill="#000090" fill-opacity="0.06"/><rect x="519" y="383" width="1" height="17" fill="url(#sl)" fill-opacity="0.49"/><rect x="520" y="362" width="1" height="38" fill="#000090" fill-opacity="0.05"/><rect x="520" y="383" width="1" height="17" fill="url(#sl)" fill-opacity="0.45"/><rect x="521" y="362" width="1" height="38" fill="#000090" fill-opacity="0.15"/><rect x="521" y="380" width="1" height="20" fill="url(#sl)" fill-opacity="0.31"/><rect x="522" y="362" width="1" height="38" fill="#0030ff" fill-opacity="0.29"/><rect x="522" y="380" width="1" height="20" fill="url(#sl)" fill-opacity="0.72"/><rect x="523" y="362" width="1" height="38" fill="#000090" fill-opacity="0.20"/><rect x="524" y="362" width="1" height="38" fill="#000090" fill-opacity="0.09"/><rect x="525" y="362" width="1" height="38" fill="#0030ff" fill-opacity="0.10"/><rect x="526" y="362" width="1" height="38" fill="#0030ff" fill-opacity="0.21"/><rect x="526" y="386" width="1" height="14" fill="url(#sl)" fill-opacity="0.75"/><rect x="527" y="388" width="1" height="12" fill="url(#sl)" fill-opacity="0.76"/><rect x="528" y="362" width="1" height="38" fill="#0030ff" fill-opacity="0.11"/><rect x="528" y="386" width="1" height="14" fill="url(#sl)" fill-opacity="0.35"/><rect x="529" y="362" width="1" height="38" fill="#000090" fill-opacity="0.08"/><rect x="529" y="390" width="1" height="10" fill="url(#sl)" fill-opacity="0.68"/><rect x="531" y="391" width="1" height="9" fill="url(#sl)" fill-opacity="0.39"/><rect x="532" y="362" width="1" height="38" fill="#0030ff" fill-opacity="0.11"/><rect x="533" y="362" width="1" height="38" fill="#000090" fill-opacity="0.09"/><rect x="534" y="362" width="1" height="38" fill="#000090" fill-opacity="0.08"/><rect x="534" y="389" width="1" height="11" fill="url(#sl)" fill-opacity="0.85"/><rect x="535" y="382" width="1" height="18" fill="url(#sl)" fill-opacity="0.71"/><rect x="536" y="362" width="1" height="38" fill="#000090" fill-opacity="0.08"/><rect x="537" y="362" width="1" height="38" fill="#0030ff" fill-opacity="0.06"/><rect x="538" y="362" width="1" height="38" fill="#0030ff" fill-opacity="0.07"/><rect x="538" y="385" width="1" height="15" fill="url(#sl)" fill-opacity="0.79"/><rect x="539" y="362" width="1" height="38" fill="#000090" fill-opacity="0.19"/><rect x="539" y="384" width="1" height="16" fill="url(#sl)" fill-opacity="0.74"/><rect x="540" y="362" width="1" height="38" fill="#0030ff" fill-opacity="0.07"/><rect x="540" y="380" width="1" height="20" fill="url(#sl)" fill-opacity="0.41"/><rect x="541" y="362" width="1" height="38" fill="#000090" fill-opacity="0.09"/><rect x="541" y="388" width="1" height="12" fill="url(#sl)" fill-opacity="0.62"/><rect x="542" y="362" width="1" height="38" fill="#000090" fill-opacity="0.07"/><rect x="542" y="384" width="1" height="16" fill="url(#sl)" fill-opacity="0.49"/><rect x="543" y="362" width="1" height="38" fill="#000090" fill-opacity="0.15"/><rect x="543" y="388" width="1" height="12" fill="url(#sl)" fill-opacity="0.38"/><rect x="545" y="384" width="1" height="16" fill="url(#sl)" fill-opacity="0.57"/><rect x="546" y="382" width="1" height="18" fill="url(#sl)" fill-opacity="0.47"/><rect x="547" y="362" width="1" height="38" fill="#0030ff" fill-opacity="0.06"/><rect x="547" y="385" width="1" height="15" fill="url(#sl)" fill-opacity="0.63"/><rect x="548" y="362" width="1" height="38" fill="#000090" fill-opacity="0.05"/><rect x="548" y="380" width="1" height="20" fill="url(#sl)" fill-opacity="0.72"/><rect x="552" y="385" width="1" height="15" fill="url(#sl)" fill-opacity="0.67"/><rect x="553" y="362" width="1" height="38" fill="#0030ff" fill-opacity="0.23"/><rect x="553" y="390" width="1" height="10" fill="url(#sl)" fill-opacity="0.38"/><rect x="554" y="362" width="1" height="38" fill="#000090" fill-opacity="0.06"/><rect x="555" y="362" width="1" height="38" fill="#0030ff" fill-opacity="0.10"/><rect x="555" y="385" width="1" height="15" fill="url(#sl)" fill-opacity="0.40"/><rect x="556" y="362" width="1" height="38" fill="#0030ff" fill-opacity="0.10"/><rect x="557" y="362" width="1" height="38" fill="#0030ff" fill-opacity="0.05"/><rect x="557" y="392" width="1" height="8" fill="url(#sl)" fill-opacity="0.32"/><rect x="558" y="362" width="1" height="38" fill="#0030ff" fill-opacity="0.27"/><rect x="559" y="386" width="1" height="14" fill="url(#sl)" fill-opacity="0.76"/><rect x="560" y="362" width="1" height="38" fill="#0030ff" fill-opacity="0.05"/><rect x="560" y="384" width="1" height="16" fill="url(#sl)" fill-opacity="0.69"/><rect x="561" y="362" width="1" height="38" fill="#000090" fill-opacity="0.15"/><rect x="561" y="386" width="1" height="14" fill="url(#sl)" fill-opacity="0.28"/><rect x="562" y="362" width="1" height="38" fill="#000090" fill-opacity="0.05"/><rect x="563" y="362" width="1" height="38" fill="#0030ff" fill-opacity="0.08"/><rect x="563" y="389" width="1" height="11" fill="url(#sl)" fill-opacity="0.41"/><rect x="565" y="385" width="1" height="15" fill="url(#sl)" fill-opacity="0.82"/><rect x="566" y="384" width="1" height="16" fill="url(#sl)" fill-opacity="0.77"/><rect x="567" y="362" width="1" height="38" fill="#0030ff" fill-opacity="0.13"/><rect x="567" y="385" width="1" height="15" fill="url(#sl)" fill-opacity="0.87"/><rect x="568" y="362" width="1" height="38" fill="#000090" fill-opacity="0.09"/><rect x="568" y="389" width="1" height="11" fill="url(#sl)" fill-opacity="0.70"/><rect x="569" y="388" width="1" height="12" fill="url(#sl)" fill-opacity="0.49"/><rect x="570" y="362" width="1" height="38" fill="#0030ff" fill-opacity="0.05"/><rect x="570" y="384" width="1" height="16" fill="url(#sl)" fill-opacity="0.25"/><rect x="571" y="362" width="1" height="38" fill="#000090" fill-opacity="0.11"/><rect x="572" y="392" width="1" height="8" fill="url(#sl)" fill-opacity="0.30"/><rect x="573" y="362" width="1" height="38" fill="#000090" fill-opacity="0.09"/><rect x="573" y="380" width="1" height="20" fill="url(#sl)" fill-opacity="0.30"/><rect x="574" y="383" width="1" height="17" fill="url(#sl)" fill-opacity="0.38"/><rect x="576" y="362" width="1" height="38" fill="#0030ff" fill-opacity="0.14"/><rect x="577" y="362" width="1" height="38" fill="#0030ff" fill-opacity="0.15"/><rect x="579" y="362" width="1" height="38" fill="#0030ff" fill-opacity="0.20"/><rect x="580" y="362" width="1" height="38" fill="#0030ff" fill-opacity="0.11"/>

<rect x="593" y="338" width="12" height="143" fill="url(#cw)"/><rect x="593" y="480" width="13" height="1" fill="#000"/>
<path d="M120 30.5H582M120 172.5H582M120.5 30V173M581.5 30V173M120.5 173V177M134.5 173V177M149.5 173V177M164.5 173V177M179.5 173V177M194.5 173V177M209.5 173V177M224.5 173V177M238.5 173V177M253.5 173V181M268.5 173V177M283.5 173V177M298.5 173V177M313.5 173V177M328.5 173V177M343.5 173V177M357.5 173V177M372.5 173V177M387.5 173V177M402.5 173V181M417.5 173V177M432.5 173V177M447.5 173V177M462.5 173V177M476.5 173V177M491.5 173V177M506.5 173V177M521.5 173V177M536.5 173V177M551.5 173V181M566.5 173V177M581.5 173V177M120 184.5H582M120 326.5H582M120.5 184V327M581.5 184V327M120.5 327V331M134.5 327V331M149.5 327V331M164.5 327V331M179.5 327V331M194.5 327V331M209.5 327V331M224.5 327V331M238.5 327V331M253.5 327V335M268.5 327V331M283.5 327V331M298.5 327V331M313.5 327V331M328.5 327V331M343.5 327V331M357.5 327V331M372.5 327V331M387.5 327V331M402.5 327V335M417.5 327V331M432.5 327V331M447.5 327V331M462.5 327V331M476.5 327V331M491.5 327V331M506.5 327V331M521.5 327V331M536.5 327V331M551.5 327V335M566.5 327V331M581.5 327V331M120 338.5H582M120 480.5H582M120.5 338V481M581.5 338V481M120.5 481V485M134.5 481V485M149.5 481V485M164.5 481V485M179.5 481V485M194.5 481V485M209.5 481V485M224.5 481V485M238.5 481V485M253.5 481V489M268.5 481V485M283.5 481V485M298.5 481V485M313.5 481V485M328.5 481V485M343.5 481V485M357.5 481V485M372.5 481V485M387.5 481V485M402.5 481V489M417.5 481V485M432.5 481V485M447.5 481V485M462.5 481V485M476.5 481V485M491.5 481V485M506.5 481V485M521.5 481V485M536.5 481V485M551.5 481V489M566.5 481V485M581.5 481V485M112 165.5H120M112 134.5H120M112 103.5H120M112 72.5H120M112 41.5H120M116 149.5H120M116 118.5H120M116 87.5H120M116 56.5H120M112 217.5H120M112 252.5H120M112 287.5H120M112 322.5H120M116 315.5H120M116 308.5H120M116 301.5H120M116 294.5H120M116 280.5H120M116 273.5H120M116 266.5H120M116 259.5H120M116 245.5H120M116 238.5H120M116 231.5H120M116 224.5H120M116 210.5H120M116 203.5H120M116 196.5H120M116 189.5H120M112 473.5H120M112 455.5H120M112 436.5H120M112 418.5H120M112 399.5H120M112 381.5H120M112 362.5H120M112 344.5H120M116 480.5H120M116 479.5H120M116 477.5H120M116 475.5H120M116 471.5H120M116 469.5H120M116 468.5H120M116 466.5H120M116 464.5H120M116 462.5H120M116 460.5H120M116 458.5H120M116 456.5H120M116 453.5H120M116 451.5H120M116 449.5H120M116 447.5H120M116 445.5H120M116 444.5H120M116 442.5H120M116 440.5H120M116 438.5H120M116 434.5H120M116 432.5H120M116 431.5H120M116 429.5H120M116 427.5H120M116 425.5H120M116 423.5H120M116 421.5H120M116 420.5H120M116 416.5H120M116 414.5H120M116 412.5H120M116 410.5H120M116 409.5H120M116 407.5H120M116 405.5H120M116 403.5H120M116 401.5H120M116 397.5H120M116 396.5H120M116 394.5H120M116 392.5H120M116 390.5H120M116 388.5H120M116 386.5H120M116 385.5H120M116 383.5H120M116 379.5H120M116 377.5H120M116 375.5H120M116 373.5H120M116 372.5H120M116 370.5H120M116 368.5H120M116 366.5H120M116 364.5H120M116 361.5H120M116 359.5H120M116 357.5H120M116 355.5H120M116 353.5H120M116 351.5H120M116 349.5H120M116 348.5H120M116 346.5H120M116 342.5H120M116 340.5H120M116 338.5H120M605.5 338V481M606 467.5H614M606 480.5H610M606 476.5H610M606 474.5H610M606 472.5H610M606 470.5H610M606 468.5H610M606 434.5H614M606 457.5H610M606 451.5H610M606 447.5H610M606 444.5H610M606 442.5H610M606 439.5H610M606 438.5H610M606 436.5H610M606 402.5H614M606 425.5H610M606 419.5H610M606 415.5H610M606 412.5H610M606 409.5H610M606 407.5H610M606 405.5H610M606 404.5H610M606 370.5H614M606 392.5H610M606 387.5H610M606 383.5H610M606 380.5H610M606 377.5H610M606 375.5H610M606 373.5H610M606 371.5H610M606 338.5H614M606 360.5H610M606 354.5H610M606 350.5H610M606 347.5H610M606 345.5H610M606 343.5H610M606 341.5H610M606 339.5H610" stroke="#000" stroke-width="1" fill="none" shape-rendering="crispEdges"/>
<g fill="none" stroke="#000" stroke-linejoin="round"><path stroke-width="1" d="M120.1 123.7 121.0 119.0 123.5 119.0 124.2 114.3 125.6 114.3 126.3 119.0 127.6 129.8 129.0 119.0 130.4 119.0 131.8 150.0 133.1 139.2 134.2 139.2 134.8 123.7 138.0 123.7 139.3 134.5 140.7 129.8 142.1 129.8 143.5 134.5 145.5 141.8 146.6 145.3 147.6 145.3 147.6 119.0 149.6 119.0 150.3 123.7 151.3 123.7 151.7 145.3 153.1 145.3 154.0 154.7 155.2 150.0 156.5 150.0 157.9 154.7 160.4 154.7 160.9 145.3 163.8 145.3 164.8 160.8 166.2 150.0 167.5 150.0 168.6 160.8 170.3 165.5 175.1 165.5 175.5 154.7 178.4 154.7 179.3 145.3 182.2 145.3 183.4 154.7 184.3 154.7 185.5 160.8 190.0 160.8 190.8 154.7 192.0 154.7 192.6 160.8 193.8 154.7 194.8 160.8 196.0 154.7 196.8 160.8 198.0 154.7 199.1 154.7 199.7 160.8 201.2 160.8 201.5 150.0 203.1 150.0 203.5 145.3 204.5 145.3 205.9 160.8 207.2 154.7 208.3 154.7 209.6 119.0 210.9 119.0 212.0 108.2 212.8 88.0 214.3 88.0 214.6 77.2 216.5 77.2 217.0 98.8 218.0 98.8 218.3 92.7 219.4 92.7 220.7 114.3 221.7 116.6 223.5 123.7 224.4 129.8 225.7 123.7 227.2 123.7 227.8 114.3 229.1 114.3 230.0 129.8 232.4 129.8 233.7 134.5 234.6 129.8 236.1 129.8 237.4 154.7 238.3 154.7 238.9 134.5 240.2 134.5 240.7 114.3 242.0 114.3 243.0 150.0 244.8 119.0 246.4 134.5 247.0 134.5 248.5 145.3 249.9 145.3 250.9 150.0 251.7 150.0 251.7 119.0 253.5 119.0 253.5 154.7 255.3 154.7 255.9 160.8 260.4 160.8 261.5 154.7 262.7 160.8 263.9 154.7 266.3 154.7 266.5 119.0 268.3 119.0 268.7 145.3 271.0 145.3 272.7 150.0 274.6 145.3 275.4 145.3 277.0 134.5 277.8 134.5 278.6 139.2 279.3 139.2 279.8 154.7 281.7 154.7 282.2 150.0 282.9 150.0 284.1 134.5 284.9 134.5 285.7 129.8 286.5 129.8 287.9 145.3 288.8 145.3 290.0 150.0 291.4 145.3 292.6 145.3 292.9 139.2 294.4 139.2 295.0 150.0 296.2 150.0 297.1 154.7 298.0 154.7 298.8 165.5 301.5 165.5 302.6 160.8 303.8 154.7 304.6 154.7 305.3 160.8 306.5 160.8 307.3 154.7 308.5 154.7 309.4 160.8 313.9 160.8 315.6 165.5 316.8 160.8 317.4 154.7 320.0 154.7 320.7 145.3 321.9 145.3 323.3 154.7 324.5 160.8 329.0 160.8 330.2 154.7 334.6 154.7 335.8 160.8 337.0 150.0 337.6 150.0 339.0 160.8 340.0 160.8 341.7 145.3 342.9 145.3 344.1 150.0 344.9 160.8 347.7 160.8 349.4 154.7 350.6 150.0 351.8 154.7 352.8 160.8 355.4 160.8 356.8 154.7 357.5 165.5 359.5 165.5 359.9 160.8 361.1 160.8 361.4 134.5 362.8 134.5 364.1 150.0 365.6 139.2 367.2 145.3 369.1 139.2 370.4 134.5 374.3 134.5 374.8 108.2 376.2 108.2 377.1 123.7 378.6 129.8 381.3 129.8 382.5 123.7 383.8 134.5 385.2 134.5 385.7 123.7 387.1 123.7 387.6 139.2 389.5 150.0 391.5 154.7 393.4 123.7 394.3 123.7 395.7 77.2 400.1 77.2 401.0 72.5 402.0 72.5 402.9 83.3 404.3 72.5 405.4 72.5 407.0 134.5 408.6 150.0 410.0 134.5 411.4 129.8 414.0 129.8 416.0 139.2 418.0 134.5 419.5 119.0 422.1 139.2 424.1 139.2 425.1 134.5 426.7 134.5 427.1 123.7 428.7 119.0 430.7 98.8 432.7 114.3 434.7 129.8 436.7 88.0 438.1 98.8 440.1 108.2 441.6 98.8 443.2 108.2 445.2 114.3 446.2 134.5 448.2 139.2 450.8 123.7 452.3 123.7 452.6 160.8 459.1 160.8 460.6 150.0 461.5 150.0 462.3 134.5 463.5 134.5 464.2 150.0 465.0 150.0 465.8 154.7 466.8 154.7 468.0 160.8 469.8 150.0 471.5 139.2 473.3 145.3 474.1 150.0 475.1 145.3 476.3 145.3 476.9 160.8 478.1 160.8 478.6 165.5 481.6 165.5 482.8 150.0 484.3 160.8 489.1 160.8 489.9 165.5 491.5 165.5 491.9 154.7 493.5 154.7 494.3 160.8 495.5 154.7 496.4 154.7 497.4 160.8 502.1 160.8 502.6 145.3 504.1 145.3 504.7 150.0 506.2 150.0 506.8 139.2 508.8 139.2 510.8 145.3 512.3 123.7 512.9 123.7 514.2 103.5 515.4 103.5 515.7 92.7 517.2 92.7 518.0 108.2 519.5 108.2 520.3 119.0 521.5 108.2 522.6 108.2 523.3 119.0 524.5 119.0 525.6 129.8 526.7 129.8 527.6 139.2 530.2 139.2 531.0 123.7 537.4 123.7 538.9 139.2 540.4 129.8 541.3 129.8 541.9 123.7 543.2 123.7 543.5 145.3 545.5 145.3 545.7 129.8 547.0 129.8 548.0 139.2 548.5 139.2 550.1 154.7 551.3 150.0 554.2 150.0 554.7 129.8 556.7 129.8 556.9 134.5 558.2 134.5 559.1 145.3 560.4 139.2 561.3 139.2 562.5 129.8 563.4 129.8 565.0 145.3 566.9 150.0 569.3 150.0 569.6 129.8 571.2 129.8 572.1 150.0 573.1 150.0 574.6 139.2 575.5 123.7 580.5 123.7 581.0 123.7"/><path stroke-width="1.1" d="M120.5 224.2 121.7 223.8 122.4 227.7 123.4 237.6 124.4 230.0 125.0 225.8 125.9 224.6 126.6 226.5 127.8 226.9 128.6 228.8 129.3 232.6 130.3 228.4 131.2 225.2 132.4 227.3 133.5 230.7 134.3 228.1 135.4 224.5 136.4 226.5 137.3 230.7 138.3 228.8 139.5 229.2 140.8 230.0 141.9 233.6 143.1 230.7 144.2 229.8 145.4 231.9 146.4 228.4 147.4 225.0 148.4 230.0 149.6 233.9 150.3 230.3 151.5 231.9 152.6 226.9 153.3 225.5 154.0 224.6 155.3 225.0 156.5 224.2 157.6 223.2 158.8 224.6 159.6 227.2 160.3 229.8 161.4 226.9 162.6 226.0 163.3 225.6 164.1 225.5 165.3 223.1 166.0 221.9 167.2 224.6 168.5 223.0 169.4 223.5 170.4 223.8 171.4 225.2 172.4 226.4 173.5 223.0 174.2 222.4 175.0 222.6 176.2 219.6 176.9 218.1 177.7 217.6 178.4 217.6 179.2 216.9 180.4 219.6 181.5 228.0 182.3 225.7 183.4 223.0 184.4 222.2 185.3 221.8 186.1 221.7 186.8 222.6 187.6 222.2 188.4 222.4 189.1 223.1 189.9 223.0 191.1 220.7 191.8 216.5 192.8 216.1 193.8 215.7 194.9 216.9 195.7 218.5 196.4 219.9 197.6 218.4 198.3 218.7 199.1 219.6 200.3 216.1 201.1 215.8 201.8 215.3 202.6 213.1 203.3 210.0 204.5 211.9 205.6 211.1 206.3 210.2 207.1 208.5 207.9 207.6 208.7 206.6 209.0 202.7 209.7 194.7 210.2 202.7 211.3 218.8 212.4 222.4 213.0 233.1 213.5 250.7 214.1 250.7 214.7 244.2 215.5 244.6 216.4 246.5 217.6 245.3 218.7 245.7 219.4 244.2 220.1 242.3 221.0 242.3 222.1 243.8 223.3 239.6 224.4 235.0 225.4 240.0 226.5 243.9 227.7 240.0 229.0 238.1 230.2 236.5 230.9 236.7 231.7 236.5 232.8 233.8 234.0 233.5 234.8 234.2 235.5 235.8 236.3 236.4 237.1 236.5 238.2 230.8 239.3 226.8 240.5 234.6 241.5 237.7 242.8 231.2 243.6 231.6 244.3 231.9 245.5 233.8 246.6 231.6 247.8 227.6 248.5 226.5 249.3 225.3 250.0 224.8 250.8 228.6 251.6 231.6 252.3 230.4 253.1 229.3 253.9 229.9 254.8 230.0 256.0 232.3 256.9 230.7 257.9 228.4 258.9 227.3 259.8 225.8 260.8 224.7 261.7 222.7 262.9 222.7 264.0 225.0 264.8 225.0 265.6 225.2 266.6 229.6 267.9 229.8 268.6 228.1 269.6 230.7 270.5 231.0 271.3 230.7 272.4 226.5 273.6 223.8 274.7 228.1 275.7 228.4 276.8 222.7 277.8 222.7 278.9 224.6 279.7 225.5 280.5 226.5 281.6 225.5 282.8 221.6 283.9 219.6 284.9 223.1 286.2 224.6 287.3 226.9 288.5 223.8 289.2 224.2 290.0 223.7 290.8 222.6 291.6 220.8 292.7 223.8 293.4 225.1 294.2 227.3 295.4 225.4 296.4 225.6 297.3 226.5 298.1 226.4 298.8 226.9 299.6 227.8 300.3 227.7 301.1 226.4 301.9 225.2 302.9 225.0 303.8 224.6 305.1 223.8 306.3 220.0 307.1 220.2 307.8 220.7 308.8 219.2 309.7 217.7 310.9 218.4 312.0 220.0 312.8 218.3 313.6 216.9 314.6 216.2 315.5 215.8 316.2 217.2 317.0 218.4 318.1 220.7 319.1 220.4 320.1 220.0 320.9 221.6 321.6 222.3 322.4 224.7 323.1 226.8 324.3 231.4 325.4 230.3 326.1 227.5 326.9 223.8 327.7 223.4 328.5 222.3 329.4 222.9 330.4 222.6 331.4 221.6 332.3 220.3 333.4 219.6 334.6 214.2 335.7 214.6 336.9 215.8 337.6 214.5 338.4 213.8 339.3 205.1 340.5 207.7 341.8 211.6 342.8 213.9 343.8 215.5 344.8 215.7 345.7 215.0 346.6 214.7 347.6 213.5 348.7 211.2 349.6 211.3 350.6 211.2 351.8 215.8 352.6 214.5 353.5 212.7 354.3 213.0 355.1 213.8 355.9 215.1 356.6 215.8 357.7 210.8 358.5 210.1 359.3 209.3 360.4 211.9 361.3 213.8 362.6 202.8 363.5 206.2 364.6 209.3 365.8 210.4 366.8 209.4 367.7 208.9 368.4 209.6 369.2 211.2 370.0 215.0 370.8 215.8 371.5 215.8 372.2 215.9 373.0 215.0 374.2 216.5 374.8 227.6 375.7 232.6 376.4 228.0 377.2 224.2 378.4 226.8 379.4 225.7 380.4 230.7 381.4 224.9 382.2 223.7 383.0 221.9 383.8 221.5 384.5 221.0 385.3 221.1 386.0 216.1 387.3 211.2 388.3 213.8 389.5 222.6 390.6 227.2 391.4 221.4 392.1 216.1 393.3 215.0 394.4 219.2 395.6 220.7 396.6 235.1 397.4 236.8 398.2 237.9 399.2 254.2 400.4 263.7 400.8 271.9 401.6 268.0 402.3 268.0 403.3 272.3 404.0 261.8 405.2 258.5 406.3 255.6 406.8 250.8 407.6 251.3 408.4 251.1 409.7 240.8 410.4 240.6 411.1 241.3 412.1 247.0 413.0 248.0 413.9 246.9 414.9 245.6 415.6 244.9 416.4 245.1 417.1 242.0 417.8 238.4 418.8 241.6 419.7 245.1 420.4 244.8 421.2 243.7 421.9 244.6 422.6 244.6 423.6 242.5 424.5 240.3 425.4 240.5 426.4 239.8 427.6 237.5 428.8 240.8 429.6 240.4 430.4 240.0 431.2 240.3 432.2 236.0 433.1 235.4 434.1 234.6 435.5 231.2 436.9 235.1 437.9 245.6 439.0 244.6 439.8 234.1 441.1 233.8 442.3 238.8 443.1 238.7 443.8 239.6 445.0 235.0 445.8 233.7 446.5 233.1 447.4 231.5 448.3 230.0 449.6 233.1 450.7 235.3 451.9 233.8 452.6 234.7 453.4 235.3 454.4 235.2 455.3 235.7 456.1 232.6 456.8 230.4 457.6 228.9 458.3 226.6 459.7 230.4 460.5 231.5 461.4 229.6 462.3 231.5 463.7 228.8 464.4 228.1 465.2 227.7 466.0 227.6 466.8 226.6 467.8 226.0 468.7 224.6 470.0 225.4 471.0 228.8 471.8 229.1 472.5 229.6 473.3 230.2 474.0 230.9 474.8 231.5 475.9 228.1 476.6 227.3 477.3 226.2 478.1 226.8 479.0 227.3 479.8 227.4 480.5 227.4 481.3 227.3 482.2 227.9 483.1 227.6 484.0 227.7 484.9 225.3 485.9 223.1 486.9 223.5 487.8 223.5 488.6 222.5 489.4 222.0 490.4 224.0 491.3 226.3 492.3 226.8 493.3 226.3 494.2 224.7 495.2 223.0 496.0 223.9 496.8 224.2 497.6 225.5 498.6 223.7 499.5 222.0 500.4 222.3 501.4 222.5 502.1 220.1 502.8 218.7 503.6 218.3 504.3 217.7 505.7 213.4 506.4 213.3 507.1 212.9 507.9 213.0 508.6 213.9 509.8 215.8 510.6 211.9 511.4 207.7 512.4 212.0 513.0 222.5 514.0 228.2 514.8 225.3 515.5 222.5 516.5 244.5 517.6 234.9 518.8 235.9 519.6 233.9 520.5 231.6 521.9 232.5 523.2 237.8 524.0 235.8 524.8 234.0 525.5 235.0 526.3 235.8 527.0 236.4 527.8 233.5 528.6 231.6 529.5 228.8 530.5 226.8 531.2 226.8 532.0 226.9 532.7 226.0 533.4 226.1 534.3 228.3 535.3 230.6 536.4 229.2 537.1 228.3 537.9 227.3 539.3 229.2 540.0 228.1 540.7 227.3 541.5 227.6 542.3 228.0 543.1 228.7 543.9 226.2 544.6 223.9 545.5 223.3 546.5 222.5 547.5 222.8 548.4 223.4 549.3 221.1 550.3 223.0 551.0 224.1 551.7 225.5 552.7 224.5 553.6 223.0 554.6 225.9 555.6 229.7 557.0 224.9 558.4 222.5 559.3 220.9 560.3 219.1 561.6 217.2 562.9 218.2 564.2 212.9 565.6 215.8 567.0 214.8 568.0 212.2 568.9 209.1 569.6 211.3 570.4 213.9 571.3 219.4 572.3 225.5 573.0 223.1 573.7 220.1 574.4 218.7 575.6 223.4 576.5 231.5 577.5 240.2 578.5 240.6 579.5 241.6 580.3 241.5 581.1 241.6"/></g>
<text x="0" y="0" font-size="12.5" text-anchor="end" transform="translate(108 170) scale(1.14 1)">0</text>
<text x="0" y="0" font-size="12.5" text-anchor="end" transform="translate(108 139) scale(1.14 1)">20</text>
<text x="0" y="0" font-size="12.5" text-anchor="end" transform="translate(108 108) scale(1.14 1)">40</text>
<text x="0" y="0" font-size="12.5" text-anchor="end" transform="translate(108 77) scale(1.14 1)">60</text>
<text x="0" y="0" font-size="12.5" text-anchor="end" transform="translate(108 46) scale(1.14 1)">80</text>
<text x="0" y="0" font-size="12.5" text-anchor="end" transform="translate(108 222) scale(1.14 1)">0</text>
<text x="0" y="0" font-size="12.5" text-anchor="end" transform="translate(108 257) scale(1.14 1)">-50</text>
<text x="0" y="0" font-size="12.5" text-anchor="end" transform="translate(108 292) scale(1.14 1)">-100</text>
<text x="0" y="0" font-size="12.5" text-anchor="end" transform="translate(108 327) scale(1.14 1)">-150</text>
<text x="0" y="0" font-size="12.5" text-anchor="end" transform="translate(108 478) scale(1.14 1)">-1</text>
<text x="0" y="0" font-size="12.5" text-anchor="end" transform="translate(108 460) scale(1.14 1)">0</text>
<text x="0" y="0" font-size="12.5" text-anchor="end" transform="translate(108 441) scale(1.14 1)">1</text>
<text x="0" y="0" font-size="12.5" text-anchor="end" transform="translate(108 423) scale(1.14 1)">2</text>
<text x="0" y="0" font-size="12.5" text-anchor="end" transform="translate(108 404) scale(1.14 1)">3</text>
<text x="0" y="0" font-size="12.5" text-anchor="end" transform="translate(108 386) scale(1.14 1)">4</text>
<text x="0" y="0" font-size="12.5" text-anchor="end" transform="translate(108 367) scale(1.14 1)">5</text>
<text x="0" y="0" font-size="12.5" text-anchor="end" transform="translate(108 349) scale(1.14 1)">6</text>
<text x="0" y="0" font-size="12.5" text-anchor="middle" transform="translate(253 503.8) scale(1.115 1)">2006-08-10</text>
<text x="0" y="0" font-size="12.5" text-anchor="middle" transform="translate(402 503.8) scale(1.115 1)">2006-08-20</text>
<text x="0" y="0" font-size="12.5" text-anchor="middle" transform="translate(551 503.8) scale(1.115 1)">2006-08-30</text>
<text x="0" y="0" font-size="12.5" transform="translate(617 475.2) scale(1.14 1)">10<tspan dy="-6.2">-1</tspan></text>
<text x="0" y="0" font-size="12.5" transform="translate(617 442.2) scale(1.14 1)">10<tspan dy="-6.2">0</tspan></text>
<text x="0" y="0" font-size="12.5" transform="translate(617 410.2) scale(1.14 1)">10<tspan dy="-6.2">1</tspan></text>
<text x="0" y="0" font-size="12.5" transform="translate(617 378.2) scale(1.14 1)">10<tspan dy="-6.2">2</tspan></text>
<text x="0" y="0" font-size="12.5" transform="translate(617 346.2) scale(1.14 1)">10<tspan dy="-6.2">3</tspan></text>
<text x="0" y="0" font-size="12.5" text-anchor="middle" transform="translate(70.5 254.85) rotate(-90) scale(0.993 1)">DST</text>
<text x="0" y="0" font-size="12.5" text-anchor="middle" transform="translate(87.4 409.35) rotate(-90) scale(1.121 1)">Proton Flux</text>
<text x="0" y="0" font-size="12.5" text-anchor="middle" transform="translate(47 102.3) rotate(-90) scale(0.97 1)">Kp</text>
<text x="0" y="0" font-size="12.5" text-anchor="middle" transform="translate(59 103.85) rotate(-90) scale(1.19 1)">(e.g. 3+ = 33,</text>
<text x="0" y="0" font-size="12.5" text-anchor="middle" transform="translate(71 104.3) rotate(-90) scale(1.18 1)">6- = 57,</text>
<text x="0" y="0" font-size="12.5" text-anchor="middle" transform="translate(83 103.2) rotate(-90) scale(1.185 1)">4 = 40, etc.)</text>
</svg></body></html>
